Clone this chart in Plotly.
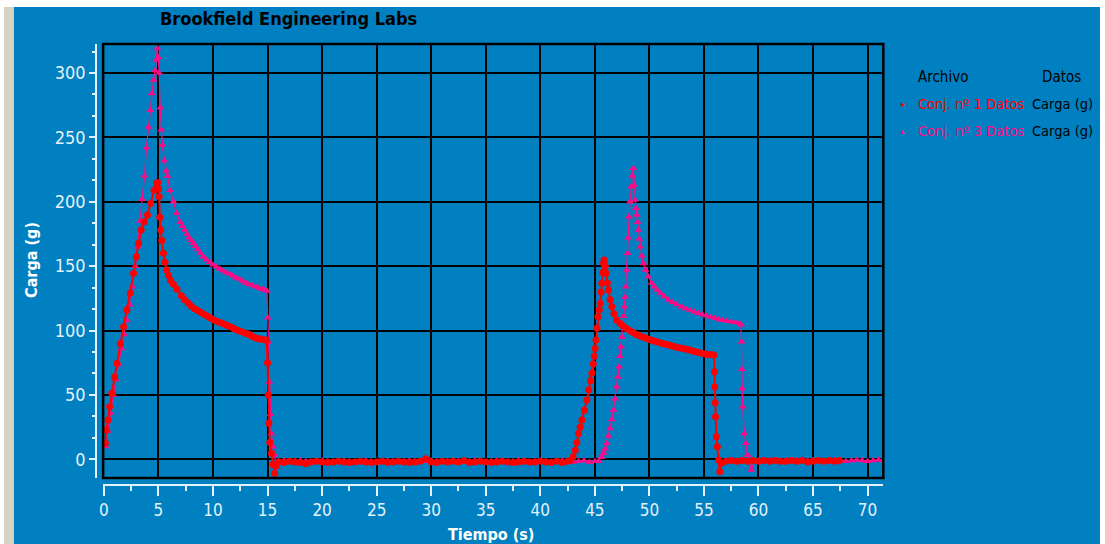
import plotly.graph_objects as go

# ---------------- data ----------------
# Conj. nº 1 Datos  (red, circles)
time_set1 = [
    0.13, 0.22, 0.37, 0.52, 0.73, 0.98, 1.19, 1.5, 1.8, 2.1, 2.41, 2.71, 2.96, 3.17, 3.41, 3.69, 3.99, 4.29, 4.6, 4.84, 4.93,
    5.0, 5.06, 5.12, 5.2, 5.3, 5.45, 5.6, 5.75, 5.9, 6.1, 6.37, 6.7, 7.1, 7.4, 7.7, 8.0, 8.3, 8.6, 8.9, 9.2, 9.5, 9.8,
    10.1, 10.4, 10.7, 11.0, 11.3, 11.6, 11.9, 12.2, 12.5, 12.8, 13.1, 13.4, 13.7, 14.0, 14.3, 14.6, 14.9,
    15.0, 15.06, 15.12, 15.2, 15.35, 15.5, 15.65, 15.8,
    16.0, 16.5, 17.0, 17.5, 18.0, 18.5, 19.0, 19.5, 20.0, 20.5, 21.0, 21.5, 22.0, 22.5, 23.0, 23.5, 24.0, 24.5,
    25.0, 25.5, 26.0, 26.5, 27.0, 27.5, 28.0, 28.5, 29.0, 29.5, 30.0, 30.5, 31.0, 31.5, 32.0, 32.5, 33.0, 33.5,
    34.0, 34.5, 35.0, 35.5, 36.0, 36.5, 37.0, 37.5, 38.0, 38.5, 39.0, 39.5, 40.0, 40.5, 41.0, 41.5, 42.0, 42.5,
    42.74, 43.0, 43.2, 43.35, 43.5, 43.65, 43.81, 44.05, 44.27, 44.45, 44.6, 44.73, 44.85, 44.94, 45.02, 45.1,
    45.2, 45.28, 45.4, 45.49, 45.57, 45.64, 45.72, 45.8, 45.85,
    45.95, 46.03, 46.15, 46.25, 46.4, 46.55, 46.75, 47.0, 47.3, 47.6, 47.9, 48.2, 48.5, 48.8, 49.1, 49.4, 49.7,
    50.0, 50.3, 50.6, 50.9, 51.2, 51.5, 51.8, 52.1, 52.4, 52.7, 53.0, 53.3, 53.6, 53.9, 54.2, 54.5, 54.8, 55.1,
    55.4, 55.7, 55.9,
    55.96, 55.99, 56.03, 56.06, 56.14, 56.23, 56.35, 56.45, 56.6,
    57.0, 57.5, 58.0, 58.5, 59.0, 59.5, 60.0, 60.5, 61.0, 61.5, 62.0, 62.5, 63.0, 63.5, 64.0, 64.5, 65.0, 65.5,
    66.0, 66.5, 67.0, 67.4,
]
load_set1 = [
    12.4, 22.8, 30.5, 40.8, 51.3, 64, 74.5, 90, 103, 116, 129, 144.4, 157.3, 167.7, 178, 184.5, 189.7, 198.8, 209, 214.3, 215,
    210, 204, 188, 178, 170, 160, 153, 147, 143, 139, 136, 132, 127, 124, 121.5, 119, 117, 115.5, 114, 112.5, 111, 109.5,
    108, 107, 106, 105, 104, 103, 101.5, 100.5, 99.5, 98.5, 97.5, 96.5, 95, 94, 93.5, 93, 92.5,
    75, 50, 28, 13, 4.7, -4, -10.9, -5,
    -2.0, -2.5, -1.5, -2.0, -2.5, -3.5, -2.0, -1.5, -2.0, -2.5, -2.0, -1.5, -2.0, -2.5, -2.0, -1.5, -2.0, -2.5,
    -2.0, -1.5, -2.5, -2.0, -1.5, -2.0, -2.5, -2.0, -1.5, 0.5, -2.0, -2.5, -1.5, -2.0, -1.5, -2.0, -1.0, -2.5,
    -2.0, -1.5, -2.0, -2.5, -2.0, -1.5, -2.0, -2.5, -2.0, -1.5, -2.0, -2.0, -1.5, -2.0, -2.5, -1.5, -2.5, -1.5,
    -1, 2, 7, 13, 20, 25, 30.5, 38, 46, 54, 61, 67, 74, 80, 86, 92.6,
    102, 110.7, 116, 121, 130, 136.7, 145, 152, 154.8,
    150, 144.4, 137, 131.5, 124, 118.5, 113, 108.2, 105.5, 103.5, 101.5, 100, 98.5, 97, 96, 95, 94,
    93, 92.2, 91.5, 90.8, 90, 89.3, 88.7, 88, 87.3, 86.7, 86.2, 85.6, 85, 84.3, 83.6, 83, 82.3, 81.8,
    81.4, 81.2, 81,
    68, 56.4, 44, 33, 17.6, 9.8, -0.5, -9.6, -3,
    -1.5, -1, -1.5, -1, -1.5, -1, -1.5, -1, -1.5, -1, -1.5, -1.5, -1, -1.5, -1, -2, -1.5, -1,
    -1.5, -1, -1.5, -1,
]

# Conj. nº 3 Datos  (magenta, triangles)
time_set3 = [
    0.15, 0.35, 0.6, 0.85, 1.1, 1.35, 1.6, 1.85, 2.1, 2.35, 2.6, 2.87, 3.1, 3.3, 3.5, 3.72, 3.9, 4.08, 4.24, 4.38,
    4.54, 4.69, 4.8, 4.9,
    4.98, 5.06, 5.15, 5.24, 5.36, 5.54, 5.7, 5.82, 6.06, 6.37, 6.67, 7.0, 7.2, 7.4, 7.6, 7.8, 8.0, 8.2, 8.4, 8.6,
    8.85, 9.1, 9.4, 9.7, 10.0, 10.3, 10.6, 10.9, 11.2, 11.5, 11.8, 12.1, 12.4, 12.7, 13.0, 13.3, 13.6, 13.9, 14.2,
    14.5, 14.75, 14.95,
    15.02, 15.08, 15.15, 15.25, 15.34, 15.5, 15.65, 15.8,
    16.0, 16.5, 17.0, 17.5, 18.0, 18.5, 19.0, 19.5, 20.0, 20.5, 21.0, 21.5, 22.0, 22.5, 23.0, 23.5, 24.0, 24.5,
    25.0, 25.5, 26.0, 26.5, 27.0, 27.5, 28.0, 28.5, 29.0, 29.5, 30.0, 30.5, 31.0, 31.5, 32.0, 32.5, 33.0, 33.5,
    34.0, 34.5, 35.0, 35.5, 36.0, 36.5, 37.0, 37.5, 38.0, 38.5, 39.0, 39.5, 40.0, 40.5, 41.0, 41.5, 42.0, 42.5,
    43.0, 43.5, 44.0, 44.5, 45.0,
    45.34, 45.6, 45.8, 45.95, 46.1, 46.25, 46.4, 46.55, 46.7, 46.85, 47.0, 47.11, 47.22, 47.31, 47.4, 47.48,
    47.56, 47.64, 47.71, 47.77, 47.83, 47.92, 48.0, 48.06, 48.13, 48.22, 48.32, 48.42, 48.52,
    48.6, 48.68, 48.76, 48.84, 48.92, 48.99, 49.07, 49.14, 49.3, 49.45, 49.65, 49.9, 50.2, 50.45, 50.7, 51.0,
    51.35, 51.73, 52.1, 52.5, 52.95, 53.3, 53.7, 54.1, 54.47, 54.85, 55.2, 55.6, 55.99, 56.35, 56.7, 57.1, 57.51,
    57.9, 58.27, 58.4,
    58.45, 58.48, 58.5, 58.55, 58.7, 58.85, 59.0, 59.34, 59.6,
    60.0, 60.5, 61.0, 61.5, 62.0, 62.5, 63.0, 63.5, 64.0, 64.5, 65.0, 65.5, 66.0, 66.5, 67.0, 67.5, 68.0, 68.5,
    69.0, 69.5, 70.0, 70.5, 71.0, 71.4,
]
load_set3 = [
    10, 22, 36, 50, 62, 74, 86, 97, 108, 120, 134, 150, 165, 185, 202, 220, 242, 258, 271, 284,
    294.6, 302, 310, 319,
    312, 300, 273, 256, 244, 232, 224, 220, 209, 200, 191, 184, 181, 178, 175, 172, 170, 167.7, 165.5, 163,
    160, 157.3, 155, 153, 151, 149.6, 148, 146.5, 145, 144, 142.5, 141, 140, 138.5, 137, 136, 135, 134, 133,
    132, 131.5, 130.7,
    110, 91, 60, 35, 20, 9.8, 3.3, -5.7,
    -1.5, -1.0, -2.0, -1.5, -1.0, -1.5, -2.0, -1.5, -1.0, -1.5, -2.0, -1.5, -1.0, -1.5, -2.0, -1.5, -1.0, -1.5,
    -2.0, -1.5, -1.0, -1.5, -2.0, -1.5, -1.0, -1.5, -2.0, -1.5, -1.0, -1.5, -2.0, -1.5, -1.0, -1.5, -2.0, -1.5,
    -1.0, -1.5, -2.0, -1.5, -1.0, -1.5, -2.0, -1.5, -1.0, -1.5, -2.0, -1.5, -1.0, -1.5, -2.0, -1.5, -1.0, -1.5,
    -2.0, -1.5, -1.0, -2.0, -1.5,
    -1.5, 1.5, 4.7, 8, 12.4, 18, 24, 31, 38.3, 47, 56.4, 64, 71.9, 80, 87.4, 95,
    103, 111, 118.5, 126, 134, 147, 160, 172, 188.4, 200, 211.7, 220, 226,
    213, 201.4, 195, 189.7, 184, 178, 171, 165, 158, 152, 147, 142, 137, 134, 131.5, 129,
    126.5, 123.7, 122, 120.3, 118.5, 117.2, 116, 114.6, 113.4, 112.4, 111.5, 110.5, 109.5, 108.6, 108, 107.4, 106.9,
    106.2, 105.6, 104.5,
    91.3, 70, 55, 40.8, 20, 12.4, 3.3, -8.3, -1.5,
    -1.0, -1.5, -0.5, -1.0, -1.5, -1.0, -0.5, -1.0, -1.5, -1.0, -0.5, -1.0, -1.5, -1.0, -0.5, -1.0, -1.5, -1.0,
    -0.5, -1.0, -1.5, -1.0, -0.5, -1.0,
]

x_ticks = [0, 5, 10, 15, 20, 25, 30, 35, 40, 45, 50, 55, 60, 65, 70]
y_ticks = [0, 50, 100, 150, 200, 250, 300]

# ---------------- styling ----------------
W, H = 1105, 544
BLUE = "#0080C0"
AXC = "#E4F1FA"
RED = "#FF0000"
MAG = "#FF0A84"
FONT = "Liberation Sans Narrow, Arial Narrow, DejaVu Sans Condensed, sans-serif"


def fx(p):
    return p / W


def fy(p):
    return 1 - p / H


X_L, X_R, Y_T, Y_B = 99.5, 882.5, 44.0, 478.0
X0_PX, X_SCALE = 100.3, 10.949
Y0_PX, Y_SCALE = 459.3, 1.2877
x_range = [(X_L - X0_PX) / X_SCALE, (X_R - X0_PX) / X_SCALE]
y_range = [(Y0_PX - Y_B) / Y_SCALE, (Y0_PX - Y_T) / Y_SCALE]

fig = go.Figure()
fig.add_trace(go.Scatter(
    x=time_set3, y=load_set3, mode="lines+markers", name="Conj. nº 3 Datos",
    line=dict(color=MAG, width=1.2), marker=dict(symbol="triangle-up", size=7, color=MAG),
))
fig.add_trace(go.Scatter(
    x=time_set1, y=load_set1, mode="lines+markers", name="Conj. nº 1 Datos",
    line=dict(color=RED, width=2), marker=dict(symbol="circle", size=7, color=RED),
))

fig.update_layout(
    width=W, height=H, margin=dict(l=0, r=0, t=0, b=0),
    paper_bgcolor="white", plot_bgcolor=BLUE, showlegend=False,
    xaxis=dict(
        domain=[fx(X_L), fx(X_R)], range=x_range, anchor="free", position=fy(484.5),
        tickmode="array", tickvals=x_ticks, ticktext=[str(v) for v in x_ticks],
        showgrid=True, gridcolor="#000000", gridwidth=2, zeroline=False,
        showline=True, linecolor=AXC, linewidth=2,
        ticks="outside", ticklen=10, tickwidth=1.5, tickcolor=AXC,
        tickfont=dict(family=FONT, size=17, color=AXC),
        minor=dict(dtick=2.5, tick0=0, ticks="outside", ticklen=5, tickwidth=1.5, tickcolor=AXC, showgrid=False),
    ),
    yaxis=dict(
        domain=[fy(Y_B), fy(Y_T)], range=y_range, anchor="free", position=fx(92.5),
        tickmode="array", tickvals=y_ticks, ticktext=[str(v) for v in y_ticks],
        showgrid=True, gridcolor="#000000", gridwidth=2, zeroline=False,
        showline=True, linecolor=AXC, linewidth=2,
        ticks="outside", ticklen=6, tickwidth=1.5, tickcolor=AXC,
        tickfont=dict(family=FONT, size=18, color=AXC),
        minor=dict(dtick=50 / 3, tick0=0, ticks="outside", ticklen=3, tickwidth=1.5, tickcolor=AXC, showgrid=False),
    ),
    shapes=[
        dict(type="rect", xref="paper", yref="paper", x0=fx(0), x1=fx(10), y0=fy(544), y1=fy(7),
             fillcolor="#D6D2C6", line=dict(width=0), layer="below"),
        dict(type="rect", xref="paper", yref="paper", x0=fx(10), x1=fx(1100), y0=fy(544), y1=fy(7),
             fillcolor=BLUE, line=dict(width=0), layer="below"),
        dict(type="rect", xref="paper", yref="paper", x0=fx(X_L), x1=fx(X_R), y0=fy(Y_B), y1=fy(Y_T),
             fillcolor="rgba(0,0,0,0)", line=dict(color="#000000", width=2.5), layer="above"),
    ],
    annotations=[
        dict(text="<b>Brookfield Engineering Labs</b>", x=fx(286), y=fy(19), xref="paper", yref="paper",
             showarrow=False, xanchor="center", yanchor="middle", font=dict(family=FONT, size=18, color="#000000")),
        dict(text="<b>Carga (g)</b>", x=fx(27), y=fy(260), xref="paper", yref="paper", textangle=-90,
             showarrow=False, xanchor="center", yanchor="middle", font=dict(family=FONT, size=16, color="white")),
        dict(text="<b>Tiempo (s)</b>", x=fx(489), y=fy(534), xref="paper", yref="paper",
             showarrow=False, xanchor="center", yanchor="middle", font=dict(family=FONT, size=16, color="white")),
        dict(text="Archivo", x=fx(915), y=fy(77), xref="paper", yref="paper",
             showarrow=False, xanchor="left", yanchor="middle", font=dict(family=FONT, size=15, color="#000000")),
        dict(text="Datos", x=fx(1040), y=fy(77), xref="paper", yref="paper",
             showarrow=False, xanchor="left", yanchor="middle", font=dict(family=FONT, size=15, color="#000000")),
        dict(text="●", x=fx(902), y=fy(103), xref="paper", yref="paper",
             showarrow=False, xanchor="center", yanchor="middle", font=dict(size=8, color=RED)),
        dict(text="Conj. nº 1 Datos", x=fx(915), y=fy(104), xref="paper", yref="paper",
             showarrow=False, xanchor="left", yanchor="middle", font=dict(family=FONT, size=14.5, color=RED)),
        dict(text="Carga (g)", x=fx(1030), y=fy(104), xref="paper", yref="paper",
             showarrow=False, xanchor="left", yanchor="middle", font=dict(family=FONT, size=14.5, color="#000000")),
        dict(text="▲", x=fx(902), y=fy(131), xref="paper", yref="paper",
             showarrow=False, xanchor="center", yanchor="middle", font=dict(size=7, color=MAG)),
        dict(text="Conj. nº 3 Datos", x=fx(915), y=fy(131), xref="paper", yref="paper",
             showarrow=False, xanchor="left", yanchor="middle", font=dict(family=FONT, size=14.5, color=MAG)),
        dict(text="Carga (g)", x=fx(1030), y=fy(131), xref="paper", yref="paper",
             showarrow=False, xanchor="left", yanchor="middle", font=dict(family=FONT, size=14.5, color="#000000")),
    ],
)

fig.write_html("out.html")
